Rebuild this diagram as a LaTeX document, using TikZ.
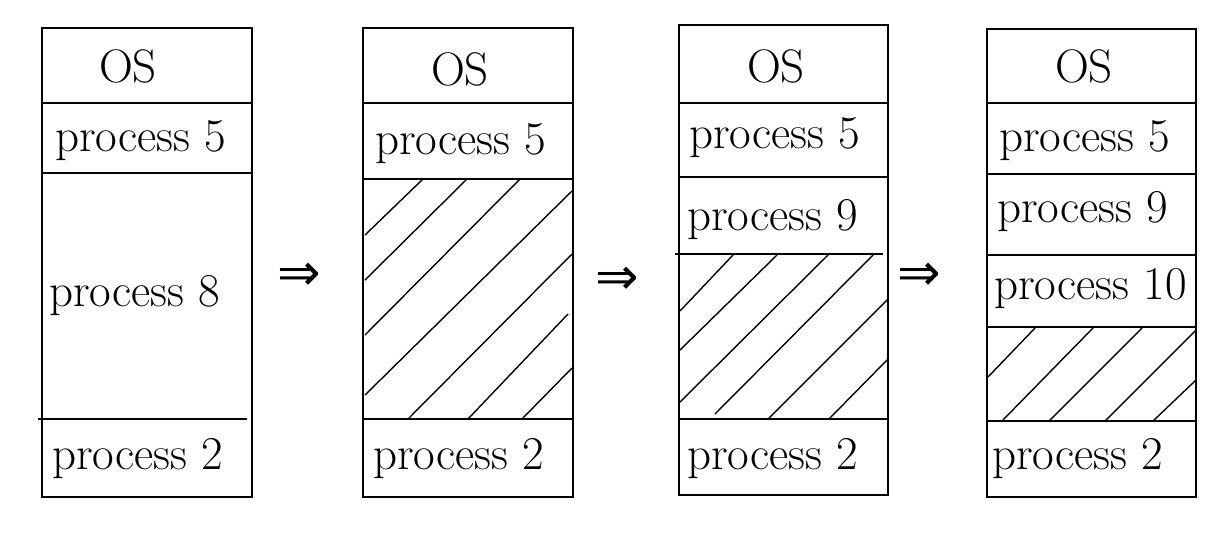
\documentclass[tikz,border=0pt]{standalone}
\usepackage{fontspec}
\newfontfamily\arrowfont{DejaVu Sans}
\begin{document}
\begin{tikzpicture}[x=1pt,y=-1pt,
    box/.style={line width=2.2pt},
    hatch/.style={line width=1.4pt},
    lbl/.style={font=\fontsize{47}{52}\selectfont, inner sep=0pt, anchor=base west},
    oslbl/.style={font=\fontsize{47}{52}\selectfont, inner sep=0pt, anchor=base},
    step arrow/.style={font=\arrowfont\fontsize{52}{56}\selectfont, inner sep=0pt}]

    \useasboundingbox (0,0) rectangle (1228,539);

    % first map: process 8 loaded
    \draw[box] (42,28) rectangle (252,497);
    \draw[box] (42,103) -- (252,103);
    \draw[box] (42,173) -- (252,173);
    \draw[box] (38,419) -- (247,419);
    \node[oslbl] (osA) at (128,82) {OS};
    \node[lbl] (pfiveA) at (55,151) {process 5};
    \node[lbl] (peightA) at (49,306) {process 8};
    \node[lbl] (ptwoA) at (52,469) {process 2};

    \node[step arrow] (arrA) at (299,277) {⇒};

    % second map: process 8 gone, hole
    \draw[box] (363,28) rectangle (573,497);
    \draw[box] (363,103) -- (573,103);
    \draw[box] (363,179) -- (573,179);
    \draw[box] (363,419) -- (573,419);
    % hole
    \draw[hatch] (365,235) -- (423,179);
    \draw[hatch] (365,280) -- (467,179);
    \draw[hatch] (365,335) -- (520,179);
    \draw[hatch] (365,395) -- (572,191);
    \draw[hatch] (408,419) -- (572,254);
    \draw[hatch] (468,419) -- (568,314);
    \draw[hatch] (522,419) -- (572,368);
    \node[oslbl] (osB) at (460,85) {OS};
    \node[lbl] (pfiveB) at (375,154) {process 5};
    \node[lbl] (ptwoB) at (373,469) {process 2};

    \node[step arrow] (arrB) at (617,281) {⇒};

    % third map: process 9 in the hole
    \draw[box] (679,25) rectangle (888,495);
    \draw[box] (679,103) -- (888,103);
    \draw[box] (679,177) -- (888,177);
    \draw[box] (675,254) -- (883,254);
    \draw[box] (679,419) -- (888,419);
    % hole
    \draw[hatch] (680,311) -- (733,255);
    \draw[hatch] (680,350) -- (777,255);
    \draw[hatch] (680,402) -- (828,255);
    \draw[hatch] (715,414) -- (873,255);
    \draw[hatch] (768,419) -- (888,299);
    \draw[hatch] (829,419) -- (888,359);
    \node[oslbl] (osC) at (776,82) {OS};
    \node[lbl] (pfiveC) at (689,148) {process 5};
    \node[lbl] (pnineC) at (687,230) {process 9};
    \node[lbl] (ptwoC) at (687,469) {process 2};

    \node[step arrow] (arrC) at (919,277) {⇒};

    % fourth map: process 10 too
    \draw[box] (987,29) rectangle (1196,497);
    \draw[box] (987,103) -- (1196,103);
    \draw[box] (987,174) -- (1196,174);
    \draw[box] (987,255) -- (1196,255);
    \draw[box] (987,327) -- (1196,327);
    \draw[box] (987,421) -- (1196,421);
    % hole
    \draw[hatch] (988,377) -- (1035,328);
    \draw[hatch] (1002,421) -- (1093,328);
    \draw[hatch] (1049,421) -- (1142,328);
    \draw[hatch] (1105,421) -- (1196,330);
    \draw[hatch] (1153,421) -- (1196,380);
    \node[oslbl] (osD) at (1084,82) {OS};
    \node[lbl] (pfiveD) at (999,151) {process 5};
    \node[lbl] (pnineD) at (997,222) {process 9};
    \node[lbl] (ptenD) at (994,299) {process 10};
    \node[lbl] (ptwoD) at (992,469) {process 2};

\end{tikzpicture}
\end{document}
